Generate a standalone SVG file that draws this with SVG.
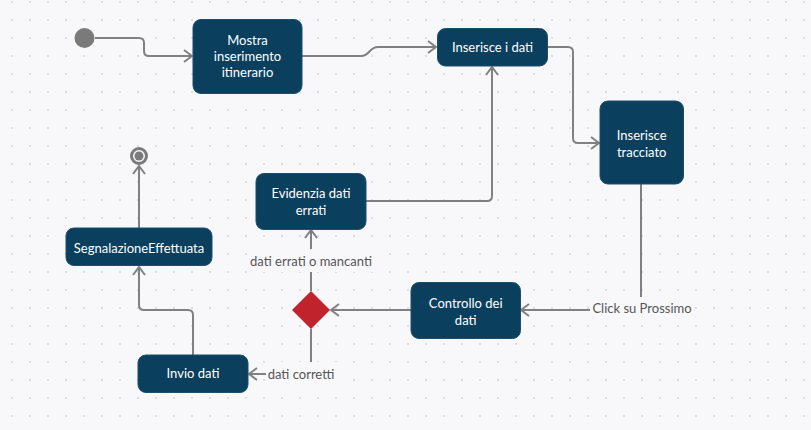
<svg xmlns="http://www.w3.org/2000/svg" width="811" height="430" viewBox="0 0 811 430">
<style>
.node rect{fill:#0a3f5e;stroke:#1d4f6c;stroke-width:1}
.node text{fill:#ffffff;font-family:Lato,"Noto Sans",sans-serif;font-size:13px;text-anchor:middle}
.conn path{fill:none;stroke:#808080;stroke-width:2}
.lbl rect{fill:#f8f8fb}
.lbl text{fill:#555555;font-family:Lato,"Noto Sans",sans-serif;font-size:13px;text-anchor:middle}
</style>
<defs>
<pattern id="dots" x="3" y="-7" width="18" height="18" patternUnits="userSpaceOnUse">
<circle cx="9" cy="9" r="1" fill="#d3d3db"/>
</pattern>
<marker id="arr" markerWidth="12" markerHeight="16" refX="10" refY="7" orient="auto" markerUnits="userSpaceOnUse" viewBox="0 0 12 14">
<path d="M2,1 L10,7 L2,13" fill="none" stroke="#808080" stroke-width="2"/>
</marker>
</defs>
<rect width="811" height="430" fill="#f8f8fb"/>
<rect width="811" height="430" fill="url(#dots)"/>

<g id="connectors" class="conn">
<path d="M95,38 H139 Q144,38 144,43 V51 Q144,56 149,56 H192" marker-end="url(#arr)"/>
<path d="M302,56 H361 C370,56 369,47 378,47 H436" marker-end="url(#arr)"/>
<path d="M547,47 H568 Q573,47 573,52 V138 Q573,143 578,143 H599" marker-end="url(#arr)"/>
<path d="M641,184 V305 Q641,310 636,310 H521" marker-end="url(#arr)"/>
<path d="M411,310 H331" marker-end="url(#arr)"/>
<path d="M311,291 V230" marker-end="url(#arr)"/>
<path d="M311,329 V369 Q311,374 306,374 H249" marker-end="url(#arr)"/>
<path d="M366,201 H487 Q492,201 492,196 V67" marker-end="url(#arr)"/>
<path d="M193,355 V315 Q193,310 188,310 H144 Q139,310 139,305 V267" marker-end="url(#arr)"/>
<path d="M139,228 V166" marker-end="url(#arr)"/>
</g>

<g id="labels" class="lbl">
<rect x="590" y="297" width="104" height="23"/>
<text x="642" y="313">Click su Prossimo</text>
<rect x="247" y="249" width="128" height="23"/>
<text x="311" y="265.5">dati errati o mancanti</text>
<rect x="266" y="362" width="71" height="24"/>
<text x="301" y="378.5">dati corretti</text>
</g>

<g id="start">
<circle cx="84.5" cy="38" r="10" fill="#7a7a7a"/>
</g>

<g id="end">
<circle cx="139" cy="156" r="7.5" fill="none" stroke="#7a7a7a" stroke-width="3"/>
<circle cx="139" cy="156" r="4.5" fill="#7a7a7a"/>
</g>

<g id="mostra" class="node">
<rect x="193" y="19.5" width="109" height="74" rx="8"/>
<text x="247.5" y="44.5">Mostra</text>
<text x="247.5" y="61">inserimento</text>
<text x="247.5" y="77">itinerario</text>
</g>

<g id="inserisce-dati" class="node">
<rect x="437.5" y="28.5" width="110" height="37.5" rx="8"/>
<text x="492.5" y="51.5">Inserisce i dati</text>
</g>

<g id="inserisce-tracciato" class="node">
<rect x="600" y="101" width="83.5" height="83" rx="8"/>
<text x="641.7" y="139.5">Inserisce</text>
<text x="641.7" y="156.5">tracciato</text>
</g>

<g id="evidenzia" class="node">
<rect x="256" y="173.5" width="110" height="56" rx="8"/>
<text x="311" y="197.5">Evidenzia dati</text>
<text x="311" y="215">errati</text>
</g>

<g id="segnalazione" class="node">
<rect x="66" y="228" width="146" height="37.5" rx="8"/>
<text x="139" y="252.5">SegnalazioneEffettuata</text>
</g>

<g id="controllo" class="node">
<rect x="411" y="282.5" width="109.5" height="56" rx="8"/>
<text x="465.7" y="307.5">Controllo dei</text>
<text x="465.7" y="325">dati</text>
</g>

<g id="invio" class="node">
<rect x="138" y="355" width="110" height="37.5" rx="8"/>
<text x="193" y="378">Invio dati</text>
</g>

<g id="decision">
<polygon points="311,291 330,310 311,329 292,310" fill="#c1232c"/>
</g>
</svg>
